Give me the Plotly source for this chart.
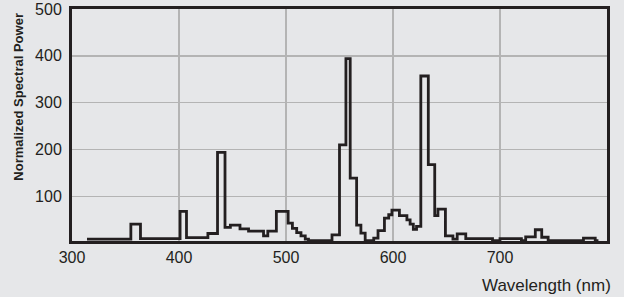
import plotly.graph_objects as go

# Bin start wavelengths (nm) and normalized spectral power per bin
bin_start = [314, 355, 364, 401, 407, 427, 436, 443, 448, 457, 465, 479, 483, 491,
             502, 506, 510, 514, 518, 521, 543, 550, 556, 560, 566, 570, 574, 582,
             586, 592, 596, 599, 606, 613, 616, 619, 622, 626, 633, 639, 642, 649,
             656, 660, 668, 693, 700, 720, 724, 733, 739, 745, 778, 789]
power = [9, 41, 10, 68, 12, 21, 194, 34, 39, 31, 26, 16, 26, 68,
         43, 32, 23, 16, 9, 6, 18, 210, 394, 139, 39, 22, 6, 11,
         27, 54, 61, 71, 59, 50, 41, 30, 36, 357, 168, 59, 73, 16,
         9, 20, 10, 6, 10, 6, 14, 29, 13, 6, 11, 6]
end_wavelength = 792

x_ticks = [300, 400, 500, 600, 700]
y_ticks = [100, 200, 300, 400, 500]

xs = bin_start + [end_wavelength]
ys = power + [power[-1]]

BG = "#e6e7e9"
GRID = "#b4b4b4"
TXT = "#231f20"

fig = go.Figure()
fig.add_trace(go.Scatter(x=xs, y=ys, mode="lines", line_shape="hv",
                         line=dict(color="#231f20", width=2.8), hoverinfo="skip"))

fig.update_layout(
    width=624, height=297,
    margin=dict(l=72, r=17, t=9, b=56, autoexpand=False),
    paper_bgcolor=BG, plot_bgcolor=BG,
    showlegend=False,
    font=dict(family="Liberation Sans, Arial, sans-serif", color=TXT, size=16),
)
fig.update_xaxes(range=[300, 800], tickvals=x_ticks, showgrid=True, gridcolor=GRID,
                 gridwidth=1.5, showline=True, linecolor="#231f20", linewidth=3,
                 mirror=True, ticks="", zeroline=False, tickfont=dict(size=16),
                 automargin=False)
fig.update_yaxes(range=[5, 500], tickvals=y_ticks, showgrid=True, gridcolor=GRID,
                 gridwidth=1.5, showline=True, linecolor="#231f20", linewidth=3,
                 mirror=True, ticks="", zeroline=False, tickfont=dict(size=16),
                 ticklabelstandoff=4, automargin=False)

fig.add_annotation(text="Wavelength (nm)", xref="paper", yref="paper",
                   x=1.011, y=-0.19, xanchor="right", yanchor="middle",
                   showarrow=False, font=dict(size=17))
fig.add_annotation(text="<b>Normalized Spectral Power</b>", xref="paper", yref="paper",
                   x=-0.1, y=0.62, xanchor="center", yanchor="middle", textangle=-90,
                   showarrow=False,
                   font=dict(size=13, family="Liberation Sans, Arial, sans-serif"))

fig.write_html("out.html", config={"displayModeBar": False, "staticPlot": True},
               post_script="document.body.style.margin='0';document.body.style.background='%s';" % BG)
